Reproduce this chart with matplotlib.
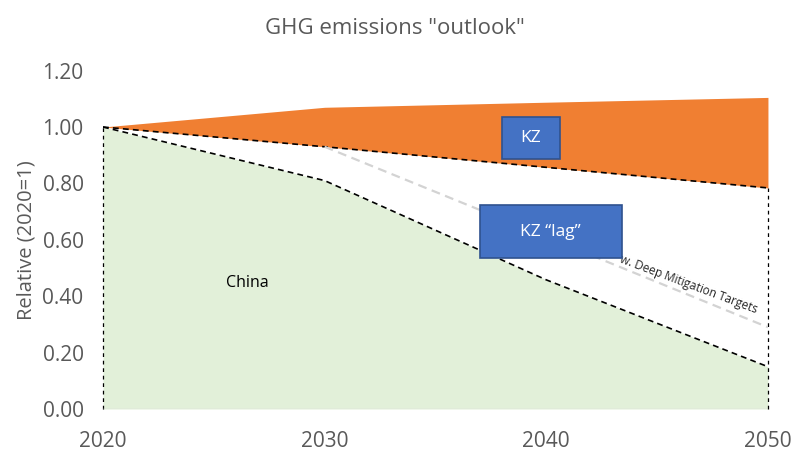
# GHG emissions outlook: KZ vs China, relative to 2020

import numpy as np
import matplotlib.pyplot as plt
from matplotlib.patches import Rectangle

plt.rcParams['font.family'] = ['Open Sans', 'DejaVu Sans']

years = [2020, 2030, 2040, 2050]
kz_upper = [1.00, 1.07, 1.088, 1.105]
kz_lower = [1.00, 0.93, 0.857, 0.784]
china = [1.00, 0.81, 0.458, 0.15]

deep_years = [2030, 2050]
deep_targets = [0.93, 0.29]

yticks = [0.0, 0.2, 0.4, 0.6, 0.8, 1.0, 1.2]
xticks = [2020, 2030, 2040, 2050]

orange = '#F07F32'
green = '#E2F0D9'
blue = '#4472C4'
grey_txt = '#595959'

fig = plt.figure(figsize=(7.94, 4.53), dpi=100)
ax = fig.add_axes([0.1297, 0.0971, 0.8375, 0.747])

ax.fill_between(years, kz_lower, kz_upper, color=orange, lw=0)
ax.fill_between(years, 0, china, color=green, lw=0)

dash = dict(color='black', lw=1.2, dashes=(3.5, 2.5))
ax.plot(years, kz_lower, **dash)
ax.plot(years, china, **dash)
ax.plot([years[0], years[0]], [0, china[0]], color='black', lw=0.9,
        dashes=(3, 3), clip_on=False)
ax.plot([years[-1], years[-1]], [0, kz_lower[-1]], color='black', lw=0.9,
        dashes=(3, 3), clip_on=False)
ax.plot(deep_years, deep_targets, color='#D3D3D3', lw=1.6, dashes=(4, 2.5))

ax.axhline(0, color='#D9D9D9', lw=1.0)

# labelled boxes
for (x0, y0, w, h, label) in [(2038.0, 0.888, 2.6, 0.149, 'KZ'),
                              (2037.0, 0.535, 6.4, 0.188, 'KZ \u201clag\u201d')]:
    ax.add_patch(Rectangle((x0, y0), w, h, facecolor=blue, edgecolor='#2F528F',
                           lw=1.2, zorder=5))
    ax.text(x0 + w / 2, y0 + h / 2, label, color='white', fontsize=12.5,
            ha='center', va='center', zorder=6)

ax.text(2026.5, 0.447, 'China', fontsize=11.5, color='black', ha='center', va='center')
ax.text(2046.4, 0.443, 'w. Deep Mitigation Targets', fontsize=8.5, color='#262626',
        rotation=-20.5, ha='center', va='center', rotation_mode='anchor')

ax.set_xlim(2020, 2050)
ax.set_ylim(0, 1.2)
ax.set_xticks(xticks)
ax.set_yticks(yticks)
ax.set_yticklabels([f'{v:.2f}' for v in yticks])
ax.tick_params(length=0, labelsize=15, labelcolor=grey_txt)
ax.tick_params(axis='y', pad=14)
ax.tick_params(axis='x', pad=16)
for s in ax.spines.values():
    s.set_visible(False)

ax.set_ylabel('Relative (2020=1)', fontsize=14.5, color=grey_txt, labelpad=4)
fig.text(0.497, 0.937, 'GHG emissions "outlook"', fontsize=16, color=grey_txt,
         ha='center', va='center')

fig.savefig('out.png', dpi=100)
